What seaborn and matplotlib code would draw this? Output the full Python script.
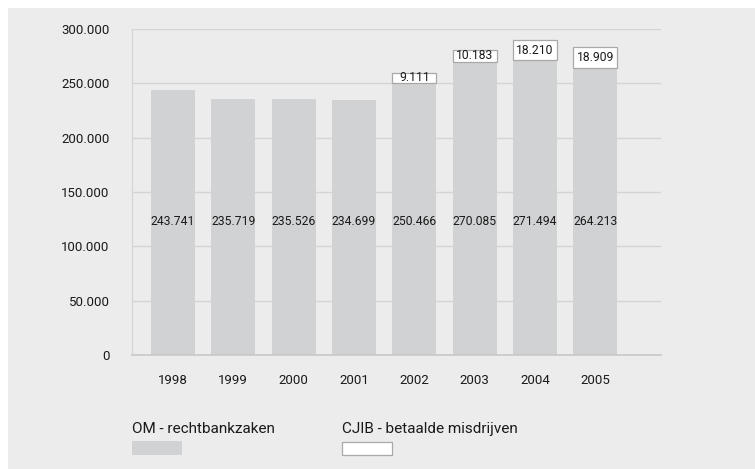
import numpy as np
import pandas as pd
import seaborn as sns
import matplotlib.pyplot as plt
from matplotlib.patches import Rectangle
from matplotlib.ticker import FuncFormatter

# Data
years = ["1998", "1999", "2000", "2001", "2002", "2003", "2004", "2005"]
om_cases = [243741, 235719, 235526, 234699, 250466, 270085, 271494, 264213]
cjib_paid = [0, 0, 0, 0, 9111, 10183, 18210, 18909]

df = pd.DataFrame({"year": years, "om": om_cases, "cjib": cjib_paid})

plt.rcParams['font.family'] = ['Roboto', 'DejaVu Sans']
text_col = "#1a1a1a"
bar_col = "#d1d2d4"
bg_col = "#ececec"

fig = plt.figure(figsize=(7.55, 4.69), dpi=100)
fig.patch.set_facecolor("white")
# grey panel behind the chart
fig.patches.append(Rectangle((8 / 755, 0), 1, 1 - 8 / 469, transform=fig.transFigure,
                             facecolor=bg_col, edgecolor="none", zorder=-10))

ax = fig.add_axes([132 / 755, 114 / 469, 529 / 755, 326 / 469])
ax.patch.set_alpha(0)

sns.barplot(data=df, x="year", y="om", color=bar_col, saturation=1, width=0.73,
            ax=ax, zorder=2)

# OM values all printed on one line inside the bars
label_y = 123000
for i, (om, cj) in enumerate(zip(om_cases, cjib_paid)):
    ax.text(i, label_y, f"{om:,}".replace(",", "."), ha="center", va="center",
            fontsize=8.7, color=text_col, zorder=4)
    if cj > 0:
        # stacked CJIB segment with the value as a boxed label
        ax.bar(i, cj, bottom=om, width=0.73, color="white", edgecolor="#a8a8a8",
               linewidth=0.9, zorder=3)
        ax.text(i, om + cj / 2, f"{cj:,}".replace(",", "."), ha="center", va="center",
                fontsize=8.7, color=text_col, zorder=4)

ax.set_ylim(0, 300000)
ax.set_xlim(-0.68, 8.09)
ax.set_yticks(np.arange(0, 300001, 50000))
ax.yaxis.set_major_formatter(FuncFormatter(lambda v, p: f"{int(v):,}".replace(",", ".")))
ax.grid(axis="y", color="#d4d4d4", linewidth=1, zorder=0)
ax.set_axisbelow(True)
ax.tick_params(axis="both", length=0, labelsize=9.5, colors=text_col)
ax.tick_params(axis="y", pad=16)
ax.tick_params(axis="x", pad=14)
ax.set_xlabel("")
ax.set_ylabel("")
for s in ["top", "right"]:
    ax.spines[s].set_visible(False)
ax.spines["left"].set_color("#d4d4d4")
ax.spines["bottom"].set_color("#c8c8c8")
ax.spines["bottom"].set_linewidth(1.2)

# legend drawn as in the source: label above swatch
fig.text(132 / 755, 1 - 429 / 469, "OM - rechtbankzaken", ha="left", va="center",
         fontsize=11, color=text_col)
fig.patches.append(Rectangle((132 / 755, 1 - 455 / 469), 50 / 755, 14 / 469,
                             transform=fig.transFigure, facecolor=bar_col, edgecolor="none"))
fig.text(342 / 755, 1 - 429 / 469, "CJIB - betaalde misdrijven", ha="left", va="center",
         fontsize=11, color=text_col)
fig.patches.append(Rectangle((342 / 755, 1 - 455 / 469), 50 / 755, 13 / 469,
                             transform=fig.transFigure, facecolor="white",
                             edgecolor="#a8a8a8", linewidth=0.9))

fig.savefig("out.png", dpi=100, facecolor=fig.get_facecolor())
